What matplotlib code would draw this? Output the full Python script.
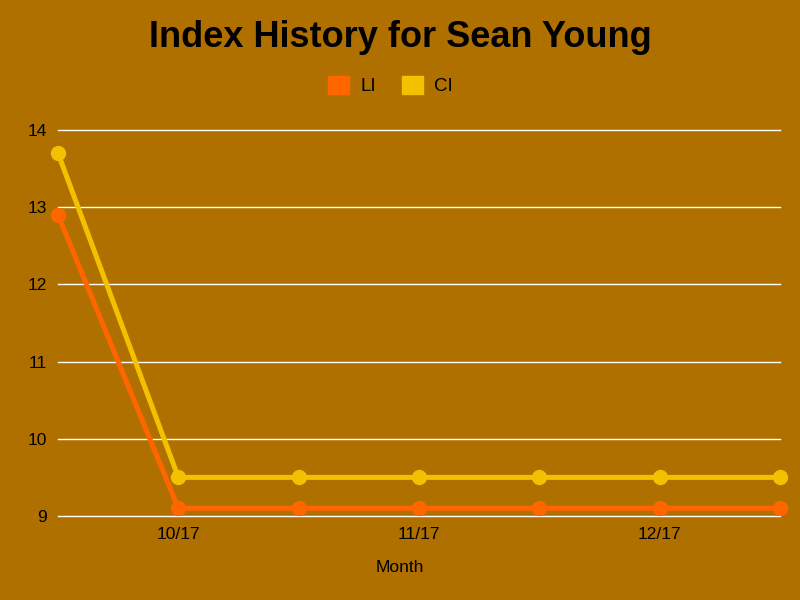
import matplotlib
matplotlib.use("Agg")
import matplotlib.pyplot as plt
from matplotlib.patches import Patch

tick_pos = [1, 3, 5]
tick_labels = ["10/17", "11/17", "12/17"]
li = [12.9, 9.1, 9.1, 9.1, 9.1, 9.1, 9.1]
ci = [13.7, 9.5, 9.5, 9.5, 9.5, 9.5, 9.5]

bg = "#B07000"
li_col = "#FF6600"
ci_col = "#F2C200"

plt.rcParams["font.family"] = ["Liberation Sans", "DejaVu Sans"]

fig = plt.figure(figsize=(8, 6), dpi=100, facecolor=bg)
ax = fig.add_axes([0.0725, 0.14, 0.9025, 0.6433])
ax.set_facecolor(bg)

x = list(range(len(li)))
ax.plot(x, li, color=li_col, lw=3.6, marker="o", ms=10, clip_on=False, zorder=3)
ax.plot(x, ci, color=ci_col, lw=3.6, marker="o", ms=10, clip_on=False, zorder=3)

ax.set_xlim(0, len(li) - 1)
ax.set_ylim(9, 14)
ax.set_yticks(range(9, 15))
ax.set_xticks(tick_pos)
ax.set_xticklabels(tick_labels)
ax.grid(axis="y", color="white", lw=1)
for gl in ax.get_ygridlines():
    gl.set_clip_on(False)
ax.set_axisbelow(True)
for s in ax.spines.values():
    s.set_visible(False)
ax.tick_params(length=0, labelsize=12.5, pad=8)
ax.tick_params(axis="y", pad=8)

fig.text(0.5, 0.054, "Month", ha="center", va="center", fontsize=12.5)
fig.text(0.5, 0.937, "Index History for Sean Young", ha="center", va="center",
         fontsize=26, fontweight="bold")
handles = [Patch(color=li_col, label="LI"), Patch(color=ci_col, label="CI")]
fig.legend(handles=handles, loc="center", bbox_to_anchor=(0.488, 0.858), ncol=2,
           frameon=False, fontsize=13.5, handlelength=1.1, handleheight=1.1,
           handletextpad=0.6, columnspacing=1.4)

fig.savefig("out.png", dpi=100, facecolor=bg)
